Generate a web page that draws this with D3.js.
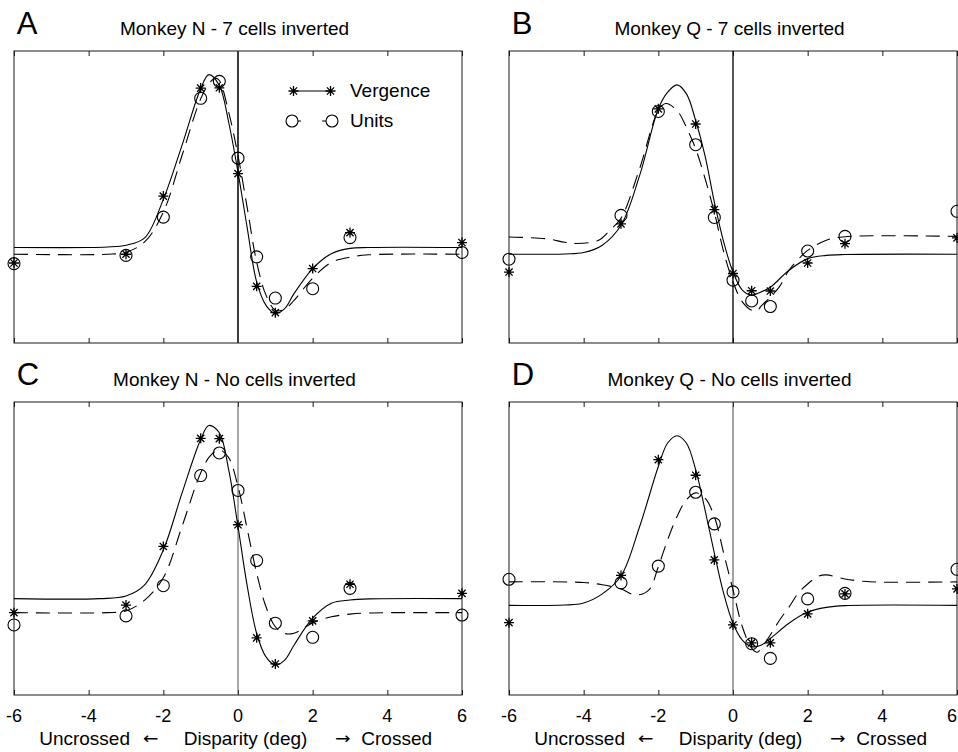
<!DOCTYPE html>
<html>
<head>
<meta charset="utf-8">
<script src="https://cdn.jsdelivr.net/npm/d3@7/dist/d3.min.js"></script>
<style>
  html, body { margin: 0; padding: 0; background: #fff; }
  svg { display: block; }
  text { font-family: "Liberation Sans", Arial, Helvetica, sans-serif; fill: #000; }
  .arrow { font-family: "DejaVu Sans", sans-serif; }
</style>
</head>
<body>
<svg id="fig" width="958" height="752"></svg>
<script>
// Disparities (deg) at which responses were measured
const disparities = [-6, -3, -2, -1, -0.5, 0, 0.5, 1, 2, 3, 6];
const xTicks = [-6, -4, -2, 0, 2, 4, 6];

// Normalised responses (0-100) at each disparity
const vergenceA = [27.4, 30.4, 50.3, 87.3, 87.4, 58.0, 19.4, 10.4, 25.5, 37.8, 34.4];
const unitsA    = [27.2, 30.0, 43.1, 83.8, 89.6, 63.3, 29.5, 15.4, 18.6, 36.1, 31.0];
const vergenceB = [24.3, 40.8, 80.2, 75.0, 45.7, 23.8, 17.9, 17.8, 27.4, 34.0, 36.0];
const unitsB    = [28.7, 43.7, 79.3, 67.9, 43.0, 21.5, 14.4, 12.5, 31.5, 36.5, 45.1];
const vergenceC = [28.1, 30.7, 50.7, 87.6, 87.5, 58.1, 19.5, 10.6, 25.3, 37.8, 34.7];
const unitsC    = [23.9, 27.0, 37.3, 74.9, 82.6, 69.8, 45.9, 24.5, 19.7, 36.4, 27.3];
const vergenceD = [24.7, 40.8, 80.3, 75.0, 46.1, 23.9, 17.8, 17.8, 27.7, 34.5, 36.2];
const unitsD    = [39.5, 38.3, 44.0, 69.2, 58.4, 35.2, 17.5, 12.5, 32.8, 34.7, 42.9];

// Fitted tuning curves, sampled as [disparity, response]
const fitVergenceA = [[-6,32.7],[-4,32.7],[-3.5,32.9],[-3,33.5],[-2.5,36.0],[-2,49.2],[-1.5,67.7],[-1,87.1],[-0.78,91.9],[-0.5,88.2],[-0.25,75.6],[0,58.5],[0.25,39.2],[0.5,20.9],[0.75,12.9],[1,10.1],[1.25,11.8],[1.5,16.9],[2,25.5],[2.5,30.6],[3,32.4],[3.5,32.7],[6,32.7]];
const fitUnitsA = [[-6,30.4],[-3.5,30.4],[-3,31.1],[-2.5,34.6],[-2,44.8],[-1.5,64.2],[-1,83.6],[-0.75,89.3],[-0.6,90.7],[-0.5,89.9],[-0.25,79.1],[0,64.2],[0.25,46.1],[0.5,27.7],[0.75,16.4],[1,11.2],[1.25,11.6],[1.5,14.6],[2,22.2],[2.5,27.6],[3,29.4],[3.5,30.2],[6,30.4]];
const fitVergenceB = [[-6,30.4],[-4.5,30.5],[-4,31.0],[-3.5,33.5],[-3,40.3],[-2.5,57.4],[-2,80.2],[-1.75,85.9],[-1.5,88.4],[-1.25,85.4],[-1,76.2],[-0.75,64.2],[-0.5,48.3],[-0.25,34.6],[0,24.3],[0.25,18.1],[0.5,16.4],[0.75,17.5],[1,19.1],[1.5,24.9],[2,28.9],[2.5,30.0],[3,30.3],[6,30.4]];
const fitUnitsB = [[-6,36.3],[-5,35.7],[-4.5,34.5],[-4.2,34.1],[-3.6,35.2],[-3.3,38.6],[-3,42.7],[-2.5,59.8],[-2,79.6],[-1.8,82.0],[-1.5,79.6],[-1.25,73.9],[-1,66.5],[-0.75,56.4],[-0.5,44.8],[-0.25,31.2],[0,20.9],[0.25,14.1],[0.5,11.2],[0.64,10.9],[0.75,12.6],[1,15.7],[1.25,19.4],[1.5,24.9],[2,31.7],[2.5,35.2],[3,36.4],[6,36.5]];
const fitVergenceC = [[-6,32.9],[-3.7,32.9],[-3,33.8],[-2.5,37.6],[-2,49.5],[-1.5,68.9],[-1,87.2],[-0.78,92.0],[-0.5,89.5],[-0.25,76.9],[0,57.5],[0.25,37.0],[0.5,21.0],[0.75,13.0],[1,10.2],[1.25,11.9],[1.5,17.0],[2,26.2],[2.5,31.3],[3,32.4],[3.5,32.8],[6,32.9]];
const fitUnitsC = [[-6,28.1],[-3.5,28.1],[-3,28.7],[-2.5,32.4],[-2,40.0],[-1.5,57.5],[-1,75.8],[-0.75,81.5],[-0.5,83.7],[-0.25,81.0],[0,71.2],[0.25,56.4],[0.5,41.6],[0.75,30.1],[1,23.3],[1.25,21.0],[1.5,21.1],[2,24.6],[2.5,26.7],[3,27.6],[3.5,28.0],[6,28.1]];
const fitVergenceD = [[-6,30.6],[-4.5,30.7],[-4,31.4],[-3.5,34.5],[-3,40.6],[-2.5,57.5],[-2,78.0],[-1.75,86.0],[-1.5,88.5],[-1.25,86.0],[-1,76.9],[-0.75,63.2],[-0.5,48.4],[-0.25,34.7],[0,24.5],[0.25,18.7],[0.5,16.5],[0.75,17.0],[1,19.3],[1.5,24.5],[2,28.3],[2.5,29.9],[3,30.5],[6,30.6]];
const fitUnitsD = [[-6,38.6],[-4,38.4],[-3.5,37.6],[-3,36.2],[-2.6,34.1],[-2.25,35.9],[-2,43.8],[-1.75,53.0],[-1.5,60.9],[-1.25,66.6],[-1,69.0],[-0.75,67.2],[-0.5,60.9],[-0.25,48.4],[0,35.9],[0.25,23.3],[0.5,16.0],[0.65,14.6],[0.8,16.7],[1,20.5],[1.25,25.6],[1.5,30.0],[1.75,34.8],[2,37.9],[2.3,40.6],[2.5,41.0],[3,39.6],[3.5,38.8],[4,38.5],[6,38.6]];

const legendLabels = ["Vergence", "Units"];

// Panel layout
const FONT = 19;
const panels = [
  { letter: "A", title: "Monkey N - 7 cells inverted", left: 14,  right: 462, top: 51,  bottom: 343,
    vergence: vergenceA, units: unitsA, fitV: fitVergenceA, fitU: fitUnitsA,
    zeroWidth: 2, zeroColor: "#3c3c3c", legend: true, tickLabels: false },
  { letter: "B", title: "Monkey Q - 7 cells inverted", left: 509, right: 957, top: 51,  bottom: 343,
    vergence: vergenceB, units: unitsB, fitV: fitVergenceB, fitU: fitUnitsB,
    zeroWidth: 1.4, zeroColor: "#111", legend: false, tickLabels: false },
  { letter: "C", title: "Monkey N - No cells inverted", left: 14,  right: 462, top: 402, bottom: 695,
    vergence: vergenceC, units: unitsC, fitV: fitVergenceC, fitU: fitUnitsC,
    zeroWidth: 1, zeroColor: "#555", legend: false, tickLabels: true },
  { letter: "D", title: "Monkey Q - No cells inverted", left: 509, right: 957, top: 402, bottom: 695,
    vergence: vergenceD, units: unitsD, fitV: fitVergenceD, fitU: fitUnitsD,
    zeroWidth: 1, zeroColor: "#444", legend: false, tickLabels: true }
];

const svg = d3.select("#fig");
const pageWidth = +svg.attr("width");

// Asterisk marker: plus combined with a cross
function starPath(s) {
  const d = s * 0.72;
  return `M${-s},0L${s},0M0,${-s}L0,${s}M${-d},${-d}L${d},${d}M${-d},${d}L${d},${-d}`;
}

panels.forEach(p => {
  const x = d3.scaleLinear().domain([-6, 6]).range([p.left, p.right]);
  const y = d3.scaleLinear().domain([0, 100]).range([p.bottom, p.top]);
  const g = svg.append("g");

  // Frame
  g.append("rect")
    .attr("x", p.left).attr("y", p.top)
    .attr("width", p.right - p.left).attr("height", p.bottom - p.top)
    .attr("fill", "none").attr("stroke", "#1a1a1a").attr("stroke-width", 1);

  // Inward ticks on top and bottom edges
  const bottomAxis = d3.axisBottom(x).tickValues(xTicks).tickSizeInner(-5).tickSizeOuter(0).tickFormat("");
  const topAxis = d3.axisTop(x).tickValues(xTicks).tickSizeInner(-5).tickSizeOuter(0).tickFormat("");
  [[bottomAxis, p.bottom], [topAxis, p.top]].forEach(([ax, yy]) => {
    const a = g.append("g").attr("transform", `translate(0,${yy})`).call(ax);
    a.select(".domain").remove();
    a.selectAll(".tick line").attr("stroke", "#1a1a1a").attr("stroke-width", 1);
  });

  // Zero-disparity line
  g.append("line")
    .attr("x1", x(0)).attr("x2", x(0)).attr("y1", p.top).attr("y2", p.bottom)
    .attr("stroke", p.zeroColor).attr("stroke-width", p.zeroWidth);

  // Fitted curves
  const line = d3.line().x(d => x(d[0])).y(d => y(d[1])).curve(d3.curveCatmullRom.alpha(0.5));
  g.append("path").datum(p.fitV).attr("d", line)
    .attr("fill", "none").attr("stroke", "#000").attr("stroke-width", 1.1);
  g.append("path").datum(p.fitU).attr("d", line)
    .attr("fill", "none").attr("stroke", "#000").attr("stroke-width", 1.1)
    .attr("stroke-dasharray", "14,8");

  // Data markers
  g.selectAll(".unit").data(p.units).join("circle")
    .attr("cx", (d, i) => x(disparities[i])).attr("cy", d => y(d)).attr("r", 6)
    .attr("fill", "none").attr("stroke", "#000").attr("stroke-width", 1.1);
  g.selectAll(".verg").data(p.vergence).join("path")
    .attr("transform", (d, i) => `translate(${x(disparities[i])},${y(d)})`)
    .attr("d", starPath(5)).attr("fill", "none").attr("stroke", "#000").attr("stroke-width", 1.3);

  // Panel letter and title
  g.append("text").attr("x", p.left + 2.7).attr("y", p.top - 17.5)
    .attr("font-size", 31).text(p.letter);
  g.append("text").attr("x", (p.left + p.right) / 2 - 3.5).attr("y", p.top - 16.5)
    .attr("text-anchor", "middle").attr("font-size", FONT).text(p.title);

  // Tick labels and axis caption
  if (p.tickLabels) {
    g.selectAll(".tl").data(xTicks).join("text")
      .attr("x", d => Math.min(x(d), pageWidth - 6))
      .attr("y", p.bottom + 27)
      .attr("text-anchor", "middle").attr("font-size", 18).text(d => d);
    const cx = x(0), by = p.bottom + 50;
    g.append("text").attr("x", cx - 108).attr("y", by)
      .attr("text-anchor", "end").attr("font-size", FONT).text("Uncrossed");
    g.append("text").attr("class", "arrow").attr("x", cx - 95.2).attr("y", by - 1)
      .attr("font-size", 16).attr("textLength", 15.6).attr("lengthAdjust", "spacingAndGlyphs")
      .text("\u2190");
    g.append("text").attr("x", cx + 7.6).attr("y", by)
      .attr("text-anchor", "middle").attr("font-size", FONT).text("Disparity (deg)");
    g.append("text").attr("class", "arrow").attr("x", cx + 97).attr("y", by - 1)
      .attr("font-size", 16).attr("textLength", 15.6).attr("lengthAdjust", "spacingAndGlyphs")
      .text("\u2192");
    g.append("text").attr("x", cx + 123.3).attr("y", by)
      .attr("text-anchor", "start").attr("font-size", FONT).text("Crossed");
  }

  // Legend
  if (p.legend) {
    const lx0 = p.left + 278, lx1 = p.left + 318, ly = p.top + 40;
    const lg = g.append("g");
    lg.append("line").attr("x1", lx0 + 1.5).attr("x2", lx1 - 1.5).attr("y1", ly).attr("y2", ly)
      .attr("stroke", "#000").attr("stroke-width", 1.1);
    [lx0 + 1.5, lx1 - 1.5].forEach(cx => lg.append("path")
      .attr("transform", `translate(${cx},${ly})`).attr("d", starPath(5))
      .attr("fill", "none").attr("stroke", "#000").attr("stroke-width", 1.3));
    lg.append("line").attr("x1", lx0).attr("x2", lx1).attr("y1", ly + 30).attr("y2", ly + 30)
      .attr("stroke", "#000").attr("stroke-width", 1.1).attr("stroke-dasharray", "9,21,10");
    [lx0, lx1].forEach(cx => lg.append("circle")
      .attr("cx", cx).attr("cy", ly + 30).attr("r", 6)
      .attr("fill", "#fff").attr("stroke", "#000").attr("stroke-width", 1.1));
    lg.selectAll(".lt").data(legendLabels).join("text")
      .attr("x", p.left + 336).attr("y", (d, i) => ly + 6 + i * 30)
      .attr("font-size", FONT).text(d => d);
  }
});
</script>
</body>
</html>
